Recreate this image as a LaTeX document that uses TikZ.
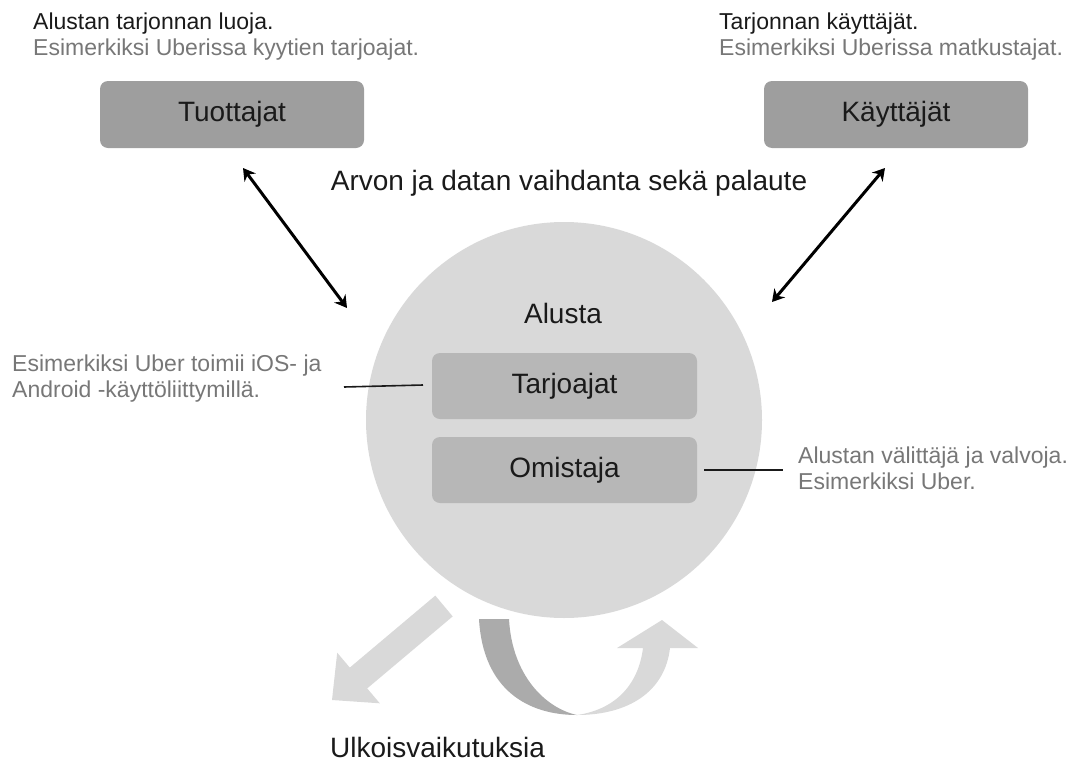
\documentclass[tikz,border=0pt]{standalone}
\usepackage{fontspec}
\setmainfont{Liberation Sans}
\usetikzlibrary{arrows.meta}
\definecolor{circgrey}{HTML}{D9D9D9}
\definecolor{topbox}{HTML}{9E9E9E}
\definecolor{innerbox}{HTML}{B7B7B7}
\definecolor{darkband}{HTML}{ABABAB}
\definecolor{txtgrey}{HTML}{777777}
\definecolor{txtdark}{HTML}{1A1A1A}
\tikzset{
  bigbox/.style={rounded corners=8pt, minimum width=264pt, minimum height=67pt, inner sep=0pt, font=\fontsize{28}{32}\selectfont, text=txtdark},
  topboxstyle/.style={bigbox, fill=topbox},
  innerboxstyle/.style={bigbox, fill=innerbox, minimum width=265pt, minimum height=66pt},
  smalltext/.style={inner sep=0pt, align=left, font=\fontsize{23}{25.5}\selectfont, text=txtdark},
  bigtext/.style={inner sep=0pt, font=\fontsize{28}{32}\selectfont, text=txtdark},
  exch/.style={line width=3pt, {Stealth[length=12pt,width=14pt]}-{Stealth[length=12pt,width=14pt]}},
  leader/.style={line width=1.6pt, draw=txtdark},
}
\begin{document}
\begin{tikzpicture}[x=1pt,y=-1pt]
\useasboundingbox (0,0) rectangle (1084,763);
% platform circle
\node[circle, fill=circgrey, minimum size=396pt, inner sep=0pt] (alustac) at (564,420) {};
\node[bigtext, anchor=base] (alusta) at (563,323) {Alusta};
% boxes
\node[topboxstyle] (tuottajat) at (232,114.5) {Tuottajat};
\node[topboxstyle] (kayttajat) at (896,114.5) {Käyttäjät};
\node[innerboxstyle] (tarjoajat) at (564.5,386) {Tarjoajat};
\node[innerboxstyle] (omistaja) at (564.5,470) {Omistaja};
% texts
\node[smalltext, anchor=north west] (tltext) at (33,13) {Alustan tarjonnan luoja.\\\textcolor{txtgrey}{Esimerkiksi Uberissa kyytien tarjoajat.}};
\node[smalltext, anchor=north west] (trtext) at (719,13) {Tarjonnan käyttäjät.\\\textcolor{txtgrey}{Esimerkiksi Uberissa matkustajat.}};
\node[bigtext, anchor=base] (arvon) at (569,190) {Arvon ja datan vaihdanta sekä palaute};
\node[smalltext, text=txtgrey, anchor=north west] (ltext) at (12,355) {Esimerkiksi Uber toimii iOS- ja\\Android -käyttöliittymillä.};
\node[smalltext, text=txtgrey, anchor=north west] (rtext) at (798,447) {Alustan välittäjä ja valvoja.\\Esimerkiksi Uber.};
\node[bigtext, anchor=base west] (ulko) at (330,757) {Ulkoisvaikutuksia};
% exchange arrows
\coordinate (la1) at (243,168);
\coordinate (la2) at (347,308);
\coordinate (ra1) at (885,168);
\coordinate (ra2) at (772,302);
\draw[exch] (la1) -- (la2);
\draw[exch] (ra1) -- (ra2);
% leader lines
\coordinate (ll1) at (344,387);
\coordinate (ll2) at (423,385);
\coordinate (rl1) at (704,470);
\coordinate (rl2) at (783,470);
\draw[leader] (ll1) -- (ll2);
\draw[leader] (rl1) -- (rl2);
% external effects: straight block arrow
\fill[circgrey] (435.3,595.6) -- (349.8,667.6) -- (337.2,652.7) -- (332,700) -- (379.8,703.3) -- (367.2,688.4) -- (452.7,616.4) -- cycle;
% curved arrow: dark half
\fill[darkband] (479,619) .. controls (483,690) and (528,715) .. (577,715)
  .. controls (545,708) and (512,675) .. (509,619) -- cycle;
% curved arrow: light half with head
\fill[circgrey] (577,715) .. controls (628,715) and (665,692) .. (670,648)
  -- (698,648) -- (662,620) -- (617,648) -- (643,648)
  .. controls (638,688) and (612,710) .. (577,715) -- cycle;
\end{tikzpicture}
\end{document}
